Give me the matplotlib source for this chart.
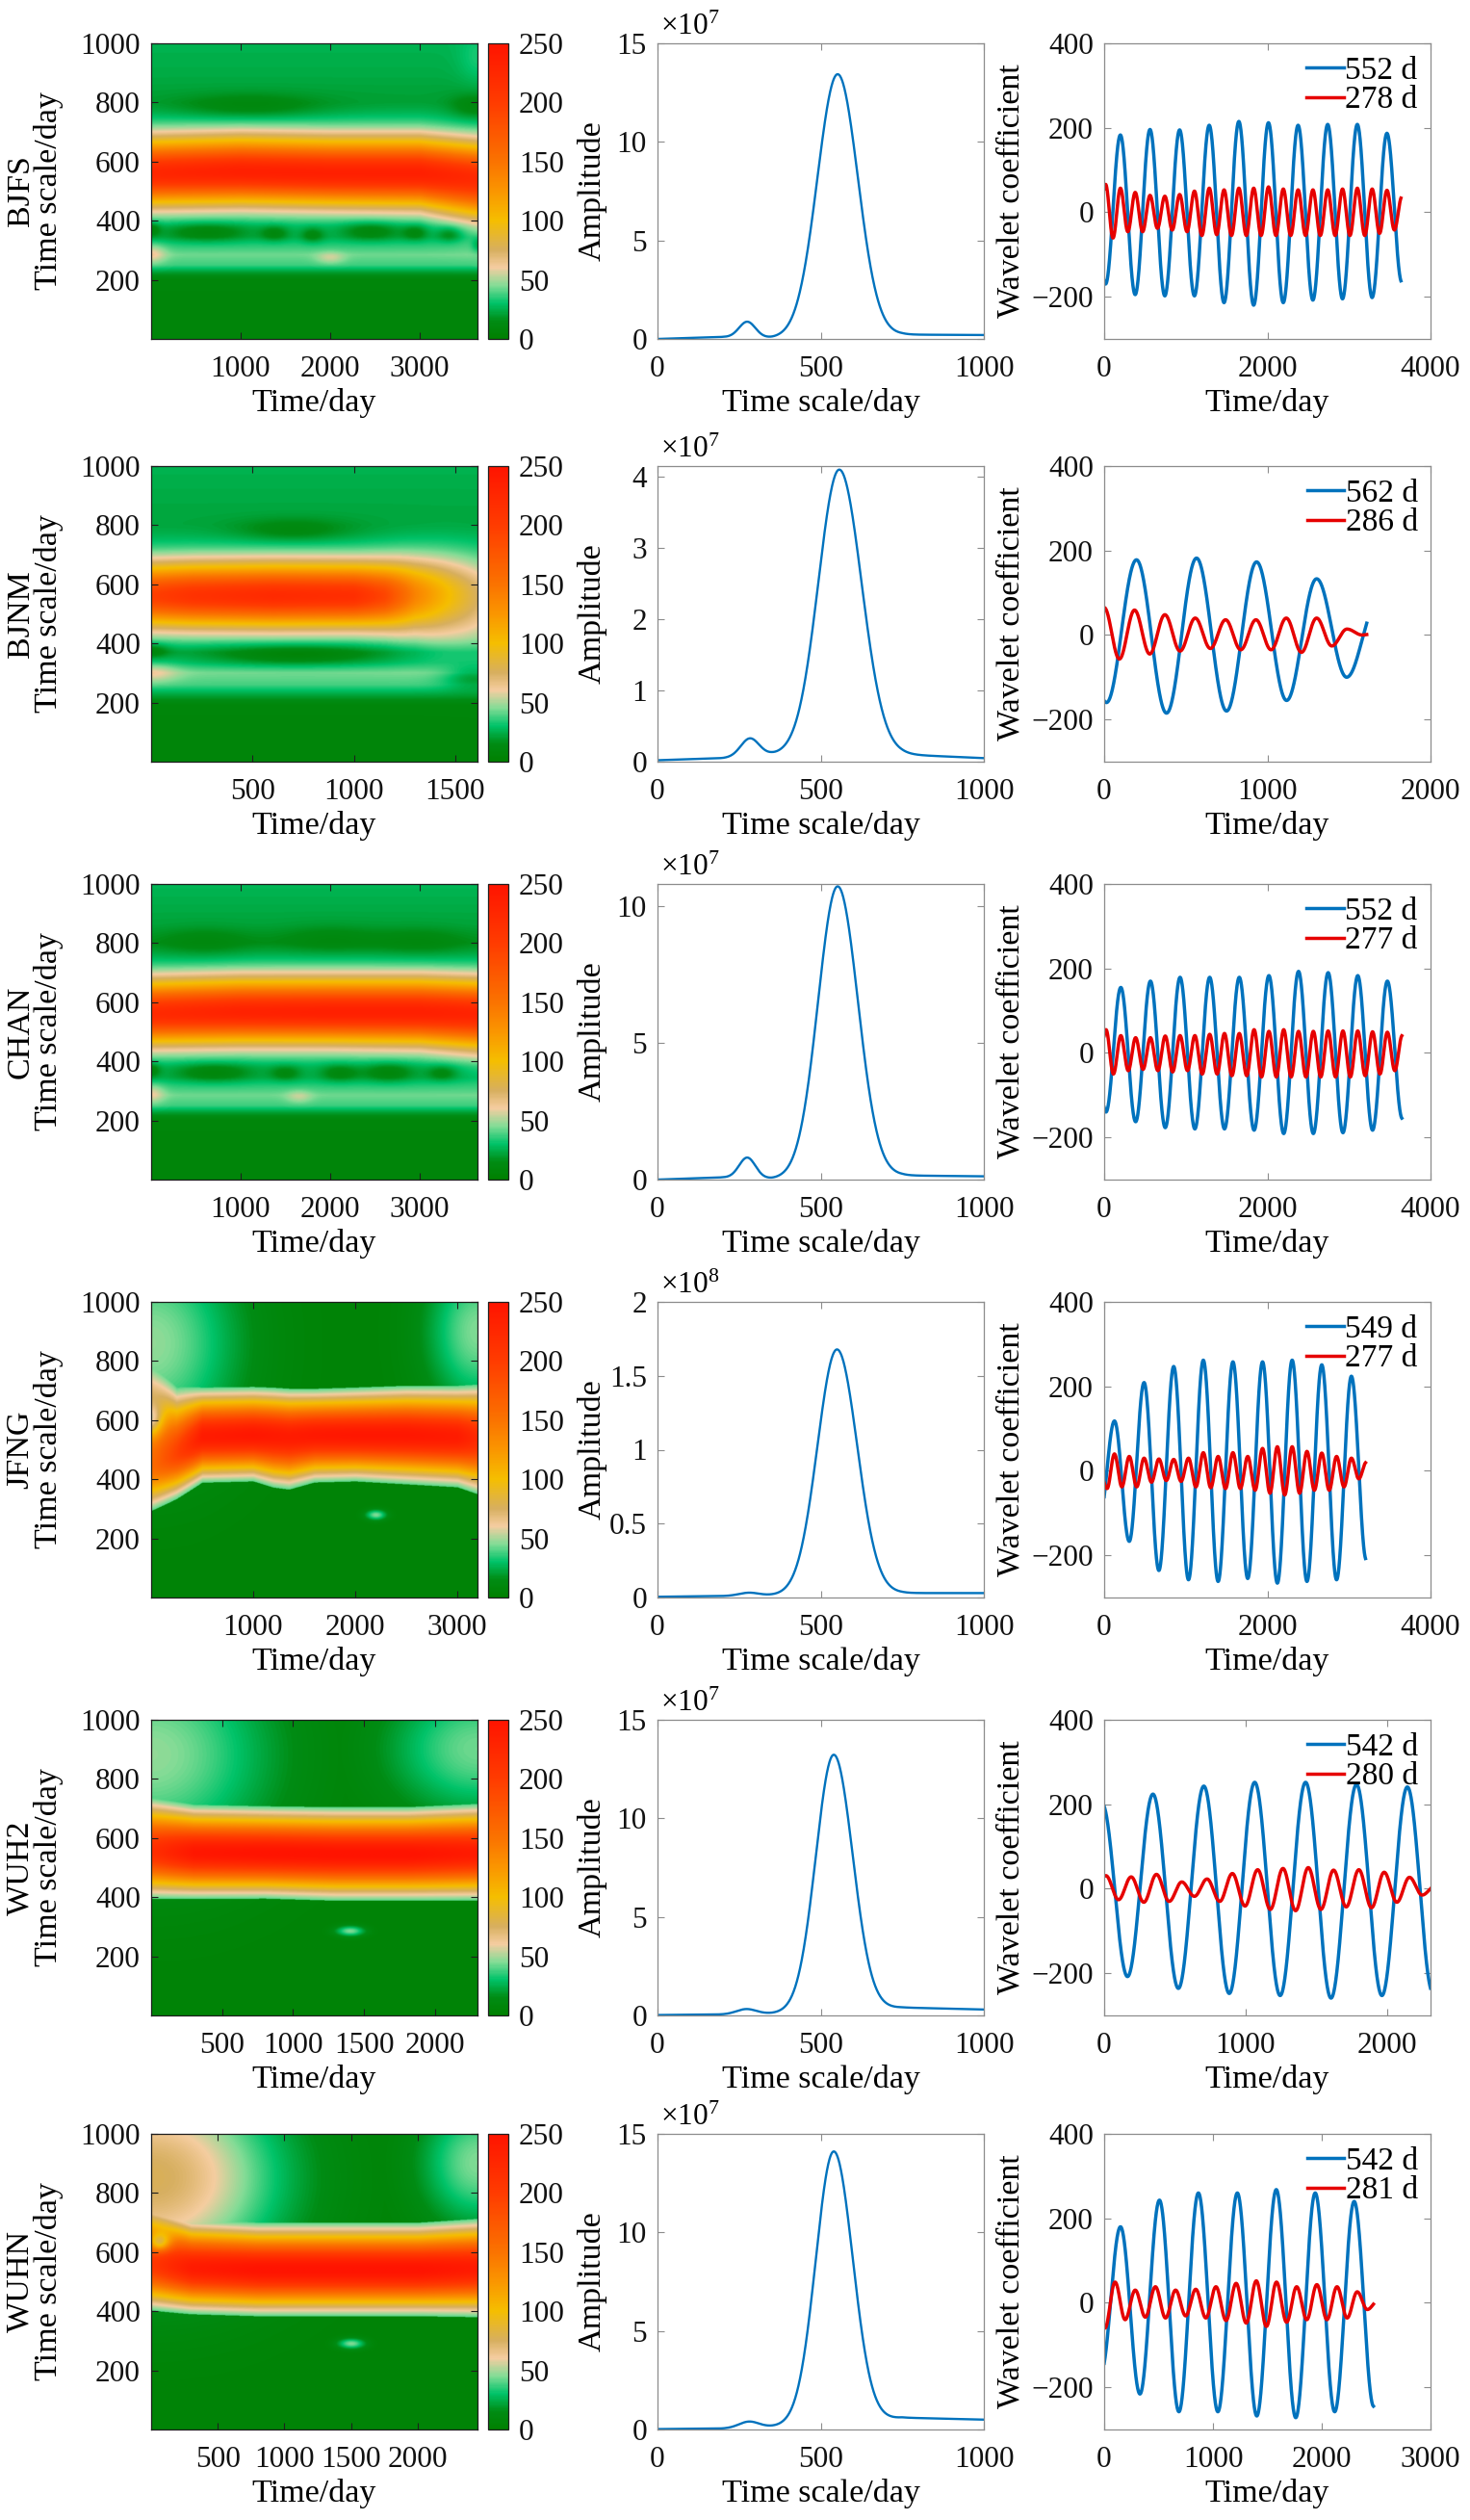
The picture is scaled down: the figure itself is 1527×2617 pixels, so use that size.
"""Wavelet power maps, global amplitude and reconstructed coefficients per station."""
import numpy as np
import matplotlib
matplotlib.use('Agg')
import matplotlib.pyplot as plt
from matplotlib.colors import LinearSegmentedColormap
from matplotlib.ticker import FuncFormatter


plt.rcParams['font.family'] = ['Liberation Serif', 'DejaVu Serif']
plt.rcParams['axes.unicode_minus'] = True

# ---- values -----------------------------------------------------------
stations = ['BJFS', 'BJNM', 'CHAN', 'JFNG', 'WUH2', 'WUHN']
span_days = [3650, 1610, 3650, 3200, 2300, 2450]
heat_xticks = [[1000, 2000, 3000], [500, 1000, 1500], [1000, 2000, 3000],
               [1000, 2000, 3000], [500, 1000, 1500, 2000],
               [500, 1000, 1500, 2000]]

# colour scale of the power maps (value -> colour)
cmap_pos = [0, 15, 30, 45, 60, 75, 100, 125, 150, 200, 250]
cmap_rgb = ['#008000', '#008c14', '#00c369', '#84dc96', '#f5cda0',
            '#d7af5f', '#f5be00', '#fa9600', '#fa7300', '#ff3c00', '#ff1400']

# background power along the scale axis
heat_bg_s = [[0, 200, 225, 250, 285, 320, 345, 380, 420, 700, 760, 800, 900, 1000],
             [0, 190, 225, 260, 300, 335, 370, 420, 700, 800, 900, 1000],
             [0, 200, 225, 250, 285, 320, 345, 380, 420, 700, 760, 800, 860, 1000],
             [0, 1000], [0, 1000], [0, 1000]]
heat_bg_v = [[7, 8, 20, 37, 43, 34, 26, 24, 28, 25, 22, 20, 24, 26],
             [7, 8, 22, 38, 44, 30, 22, 28, 25, 22, 24, 26],
             [7, 8, 20, 37, 43, 34, 26, 24, 28, 25, 21, 17, 22, 27],
             [5, 5], [5, 5], [5, 5]]
heat_cut = [0, 0, 0, 40, 40, 40]

# main power band: time nodes, centre scale, peak, lower / upper width
band_t = [[0, 1000, 2000, 3000, 3650],
          [0, 200, 600, 1000, 1150, 1300, 1450, 1610],
          [0, 1000, 2000, 3000, 3650],
          [0, 250, 500, 1000, 1200, 1350, 1600, 2000, 2500, 3000, 3200],
          [0, 300, 800, 1300, 1800, 2300],
          [0, 300, 800, 1400, 2000, 2450]]
band_c = [[560, 565, 560, 560, 545],
          [560, 560, 560, 560, 560, 565, 565, 560],
          [560, 565, 565, 565, 560],
          [450, 490, 545, 550, 548, 545, 550, 550, 550, 545, 540],
          [555, 550, 548, 545, 545, 548],
          [560, 545, 540, 540, 540, 545]]
band_p = [[200, 208, 208, 208, 195],
          [170, 185, 195, 190, 165, 112, 78, 48],
          [195, 205, 208, 208, 203],
          [150, 190, 235, 240, 237, 235, 238, 240, 240, 235, 215],
          [210, 240, 245, 245, 245, 235],
          [200, 235, 245, 245, 245, 235]]
band_sl = [[68, 68, 68, 70, 85],
           [68, 68, 68, 68, 72, 85, 100, 110],
           [66, 66, 66, 68, 75],
           [92, 85, 80, 80, 90, 92, 82, 80, 85, 88, 100],
           [85, 80, 78, 80, 80, 82],
           [85, 80, 80, 80, 80, 85]]
band_su = [[76, 76, 76, 76, 76],
           [72, 72, 72, 72, 75, 80, 85, 90],
           [72, 72, 72, 72, 72],
           [200, 120, 85, 83, 83, 83, 80, 82, 85, 88, 95],
           [95, 82, 80, 80, 80, 85],
           [110, 85, 80, 80, 80, 85]]

# local spots: (time, scale, time width, scale width, change)
heat_spots = [
    [(0, 372, 70, 18, -16), (620, 362, 330, 22, -18), (1380, 358, 110, 18, -16),
     (1800, 352, 90, 18, -16), (2450, 365, 230, 22, -18), (2950, 360, 100, 18, -16),
     (3330, 355, 100, 18, -16), (3650, 318, 50, 18, -14),
     (1100, 785, 550, 30, -12), (3600, 785, 180, 30, -11),
     (0, 288, 110, 22, 20), (2000, 275, 110, 14, 14), (3650, 950, 150, 60, 8)],
    [(0, 375, 60, 18, -16), (720, 360, 300, 25, -20), (1590, 285, 110, 28, -22),
     (700, 780, 200, 28, -12), (0, 300, 90, 22, 18)],
    [(0, 370, 70, 18, -16), (700, 362, 300, 22, -18), (1500, 360, 120, 18, -15),
     (2100, 360, 150, 20, -16), (2650, 362, 200, 22, -18), (3250, 360, 120, 18, -16),
     (600, 800, 350, 35, -7), (2000, 810, 400, 35, -7), (3000, 800, 350, 35, -7),
     (0, 290, 100, 22, 18), (1650, 280, 100, 15, 12)],
    [(0, 600, 80, 40, -60)],
    [],
    [(60, 630, 60, 22, -80)],
]
# faint patches drawn after the low-power cut (each one on its own)
heat_haze = [
    [], [], [],
    [(0, 860, 600, 250, 42), (3200, 900, 350, 180, 40), (2200, 280, 70, 12, 40)],
    [(0, 880, 600, 250, 42), (2300, 900, 450, 160, 38), (1400, 285, 70, 12, 40)],
    [(0, 850, 650, 230, 72), (2450, 900, 300, 150, 40), (1500, 290, 70, 12, 40)],
]

# global amplitude (in units of 10^amp_exp)
amp_exp = [7, 7, 7, 8, 7, 7]
amp_top = [15, 4.15, 10.8, 2, 15, 15]
amp_ticks = [[0, 5, 10, 15], [0, 1, 2, 3, 4], [0, 5, 10],
             [0, 0.5, 1, 1.5, 2], [0, 5, 10, 15], [0, 5, 10, 15]]
main_c = [552, 557, 552, 550, 540, 540]
main_h = [13.35, 4.0, 10.65, 1.66, 13.0, 13.8]
main_sl = [62, 64, 60, 60, 55, 55]
main_sr = [62, 68, 62, 62, 58, 58]
sec_c = [275, 283, 275, 280, 272, 280]
sec_h = [0.8, 0.25, 0.75, 0.02, 0.25, 0.3]
sec_w = [25, 28, 25, 30, 30, 30]
floor_s = [0, 200, 350, 650, 750, 1000]
amp_floor = [[0.0, 0.1, 0.05, 0.1, 0.22, 0.2],
             [0.02, 0.05, 0.1, 0.1, 0.1, 0.05],
             [0.0, 0.08, 0.03, 0.08, 0.15, 0.12],
             [0.005, 0.01, 0.015, 0.02, 0.03, 0.03],
             [0.02, 0.05, 0.1, 0.3, 0.4, 0.3],
             [0.02, 0.05, 0.15, 0.4, 0.6, 0.5]]

# reconstructed coefficients: time of first extremum, period, extrema
wav_xlim = [4000, 2000, 4000, 4000, 2309, 3000]
wav_xticks = [[0, 2000, 4000], [0, 1000, 2000], [0, 2000, 4000],
              [0, 2000, 4000], [0, 1000, 2000], [0, 1000, 2000, 3000]]
series_end = [3637, 1609, 3648, 3203, 2309, 2475]
blue_labels = ['552 d', '562 d', '552 d', '549 d', '542 d', '542 d']
red_labels = ['278 d', '286 d', '277 d', '277 d', '280 d', '281 d']
blue_t0 = [-164.5, -170, -159, -55.5, -15, -29]
blue_per = [363, 368, 363, 363, 360, 358]
blue_ext = [
    [180, -170, 183, -195, 196, -198, 195, -198, 206, -214, 215, -220, 212, -214,
     206, -208, 208, -205, 208, -202, 187, -165],
    [150, -160, 178, -185, 182, -180, 173, -155, 133, -100, 70],
    [150, -140, 155, -163, 170, -177, 179, -180, 179, -180, 179, -183, 183, -191,
     193, -191, 190, -189, 183, -183, 170, -155],
    [-110, 118, -167, 209, -236, 247, -258, 262, -262, 258, -255, 258, -266, 262,
     -262, 251, -258, 224, -210],
    [202, -208, 224, -236, 243, -248, 252, -253, 252, -259, 247, -253, 241, -245],
    [-165, 180, -216, 243, -258, 260, -258, 260, -268, 268, -272, 260, -258, 240,
     -245],
]
red_t0 = [-73.25, 0, -68.25, -55.5, -77.5, -85.5]
red_per = [181.5, 186, 181.5, 181.5, 179, 185.5]
red_ext = [
    [-50, 66, -61, 57, -46, 47, -46, 40, -38, 38, -42, 42, -46, 50, -55, 57, -53,
     53, -55, 57, -55, 57, -55, 60, -55, 55, -55, 53, -55, 53, -55, 53, -55, 55,
     -55, 57, -55, 55, -50, 52, -42, 36],
    [65, -57, 59, -45, 48, -38, 40, -32, 36, -35, 36, -35, 40, -41, 40, -26, 14,
     0, 5],
    [-45, 55, -50, 41, -42, 36, -39, 36, -42, 40, -45, 41, -42, 41, -50, 44, -50,
     46, -54, 46, -54, 55, -57, 51, -57, 55, -57, 51, -57, 51, -57, 52, -57, 52,
     -57, 52, -54, 50, -50, 49, -42, 41],
    [0, -42, 40, -38, 34, -38, 30, -27, 28, -23, 27, -25, 30, -38, 43, -40, 34,
     -42, 43, -42, 34, -46, 53, -53, 57, -57, 57, -53, 46, -46, 42, -46, 34, -38,
     30, -19, 20],
    [-20, 31, -26, 28, -32, 34, -30, 16, -18, 23, -30, 36, -41, 45, -49, 48, -52,
     50, -49, 44, -43, 45, -45, 39, -32, 27, -15, 5],
    [0, -60, 49, -40, 30, -34, 38, -36, 30, -31, 32, -36, 38, -42, 46, -48, 52,
     -56, 49, -46, 38, -40, 43, -40, 38, -36, 26, -16, 3],
]

# ---- layout (pixels) --------------------------------------------------
W, H = 1527, 2617
row_top = [45, 484, 918, 1352, 1786, 2216]
ax_h = 307
BLUE = '#0072bd'
RED = '#e60000'
FS_TICK = 22.5
FS_LAB = 24.5
FS_LEG = 24


def rect(x, w, top, h):
    return [x / W, 1 - (top + h) / H, w / W, h / H]


def tick_fmt(v, pos):
    return '{:g}'.format(v).replace('-', '\u2212')


def spot(T, S, bt, bs, dt, ds, a):
    return a * np.exp(-0.5 * ((T - bt) / dt) ** 2 - 0.5 * ((S - bs) / ds) ** 2)


def heat_field(r, tt, ss):
    T, S = np.meshgrid(tt, ss)
    Z = np.interp(S, heat_bg_s[r], heat_bg_v[r])
    c = np.interp(T, band_t[r], band_c[r])
    p = np.interp(T, band_t[r], band_p[r])
    sl = np.interp(T, band_t[r], band_sl[r])
    su = np.interp(T, band_t[r], band_su[r])
    d = S - c
    sig = np.where(d < 0, sl, su)
    Z = Z + p * np.exp(-0.5 * (d / sig) ** 2)
    for sp in heat_spots[r]:
        Z = Z + spot(T, S, *sp)
    if heat_cut[r]:
        Z = np.where(Z < heat_cut[r], 5, Z)
    for sp in heat_haze[r]:
        Z = np.maximum(Z, 5 + spot(T, S, *sp))
    return Z


def amp_curve(r, s):
    d = s - main_c[r]
    sig = np.where(d < 0, main_sl[r], main_sr[r])
    y = main_h[r] * np.exp(-0.5 * (d / sig) ** 2)
    y = y + sec_h[r] * np.exp(-0.5 * ((s - sec_c[r]) / sec_w[r]) ** 2)
    return y + np.interp(s, floor_s, amp_floor[r])


def cos_series(t, t0, per, ext):
    """Join the read extrema with half cosine arcs."""
    ext = np.asarray(ext, dtype=float)
    half = per / 2.0
    u = (t - t0) / half
    k = np.clip(np.floor(u).astype(int), 0, len(ext) - 2)
    ph = u - k
    a, b = ext[k], ext[k + 1]
    return (a + b) / 2 + (a - b) / 2 * np.cos(np.pi * ph)


def style_axes(ax, frame):
    for sp in ax.spines.values():
        sp.set_color(frame)
        sp.set_linewidth(0.9)
    ax.tick_params(direction='in', top=True, right=True, length=5, width=0.8,
                   color=frame, labelsize=FS_TICK, labelcolor='#111111')
    ax.tick_params(axis='x', pad=12)
    ax.tick_params(axis='y', pad=8)
    ax.xaxis.set_major_formatter(FuncFormatter(tick_fmt))
    ax.yaxis.set_major_formatter(FuncFormatter(tick_fmt))


def place_labels(ax, xlab, ylab, ypos):
    ax.set_xlabel(xlab, fontsize=FS_LAB)
    ax.set_ylabel(ylab, fontsize=FS_LAB, linespacing=0.92)
    ax.xaxis.set_label_coords(0.5, -0.215)
    ax.xaxis.label.set_va('center')
    ax.yaxis.set_label_coords(ypos, 0.5)
    ax.yaxis.label.set_va('center')


cmap = LinearSegmentedColormap.from_list(
    'power', [(p / 250.0, c) for p, c in zip(cmap_pos, cmap_rgb)])

fig = plt.figure(figsize=(W / 100, H / 100), dpi=100)

for r, name in enumerate(stations):
    top = row_top[r]

    # power map
    ax = fig.add_axes(rect(157, 339, top, ax_h))
    tt = np.linspace(0, span_days[r], 600)
    ss = np.linspace(1, 1000, 700)
    Z = heat_field(r, tt, ss)
    im = ax.imshow(Z, origin='lower', extent=[0, span_days[r], 1, 1000],
                   aspect='auto', cmap=cmap, vmin=0, vmax=250,
                   interpolation='bilinear')
    ax.set_xlim(0, span_days[r])
    ax.set_ylim(1, 1000)
    ax.set_xticks(heat_xticks[r])
    ax.set_yticks([200, 400, 600, 800, 1000])
    style_axes(ax, '#1e1e1e')
    place_labels(ax, 'Time/day', name + '\nTime scale/day', -0.357)

    cax = fig.add_axes(rect(507, 21, top, ax_h))
    cb = fig.colorbar(im, cax=cax, ticks=[0, 50, 100, 150, 200, 250])
    cb.outline.set_edgecolor('#1e1e1e')
    cb.outline.set_linewidth(0.9)
    cax.tick_params(length=0, labelsize=FS_TICK, pad=8, labelcolor='#111111')

    # global amplitude
    ax = fig.add_axes(rect(683, 339, top, ax_h))
    s = np.arange(1, 1001)
    ax.plot(s, amp_curve(r, s), color=BLUE, lw=1.7)
    ax.set_xlim(0, 1000)
    ax.set_ylim(0, amp_top[r])
    ax.set_xticks([0, 500, 1000])
    ax.set_yticks(amp_ticks[r])
    style_axes(ax, '#8c8c8c')
    place_labels(ax, 'Time scale/day', 'Amplitude', -0.2)
    ax.text(0.01, 1.005, r'$\mathregular{\times10^{%d}}$' % amp_exp[r],
            transform=ax.transAxes, ha='left', va='bottom', fontsize=FS_TICK)

    # reconstructed coefficients
    ax = fig.add_axes(rect(1147, 339, top, ax_h))
    t = np.arange(0, series_end[r] + 1)
    ax.plot(t, cos_series(t, blue_t0[r], blue_per[r], blue_ext[r]),
            color=BLUE, lw=2.5, label=blue_labels[r])
    ax.plot(t, cos_series(t, red_t0[r], red_per[r], red_ext[r]),
            color=RED, lw=2.5, label=red_labels[r])
    ax.set_xlim(0, wav_xlim[r])
    ax.set_ylim(-300, 400)
    ax.set_xticks(wav_xticks[r])
    ax.set_yticks([-200, 0, 200, 400])
    style_axes(ax, '#8c8c8c')
    place_labels(ax, 'Time/day', 'Wavelet coefficient', -0.285)
    ax.legend(loc='upper right', frameon=False, fontsize=FS_LEG,
              handlelength=1.15, handletextpad=0.05, labelspacing=0.0,
              borderaxespad=0.2, borderpad=0.2)

fig.savefig('out.png', dpi=100, facecolor='white')
